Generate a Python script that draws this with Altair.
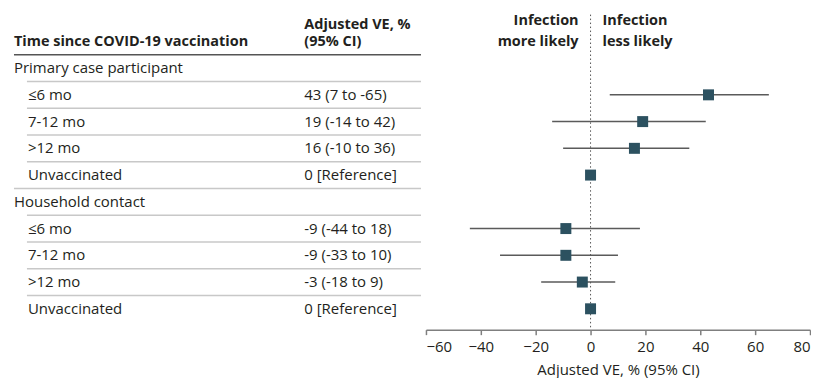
import altair as alt
import pandas as pd

groups = ["Primary case participant", "Household contact"]
periods = ["≤6 mo", "7-12 mo", ">12 mo", "Unvaccinated"]
ve = [43, 19, 16, 0, -9, -9, -3, 0]
ci_low = [7, -14, -10, None, -44, -33, -18, None]
ci_high = [65, 42, 36, None, 18, 10, 9, None]
ve_text = ["43 (7 to -65)", "19 (-14 to 42)", "16 (-10 to 36)", "0 [Reference]",
           "-9 (-44 to 18)", "-9 (-33 to 10)", "-3 (-18 to 9)", "0 [Reference]"]
x_ticks = [-60, -40, -20, 0, 20, 40, 60, 80]

rows = []
r = 1
k = 0
for g in groups:
    rows.append(dict(row=r, label=g, level="group", ve=None, lo=None, hi=None, txt=""))
    r += 1
    for p in periods:
        rows.append(dict(row=r, label=p, level="item", ve=ve[k], lo=ci_low[k],
                         hi=ci_high[k], txt=ve_text[k]))
        r += 1
        k += 1
df = pd.DataFrame(rows)
n_rows = len(rows)

seps = [dict(pos=0.5, kind="head")]
levels = [row["level"] for row in rows]
for i in range(1, n_rows):
    seps.append(dict(pos=i + 0.5, kind="full" if levels[i] == "group" else "indent"))
sep_df = pd.DataFrame(seps)

FONT = "Open Sans"
FS = 15
FSB = 14.5
TXT = "#231f20"
W_L, W_R, H = 419, 385, 322
yscale = alt.Scale(domain=[-1.23, 10.78], reverse=True, nice=False, zero=False)

def Y(field):
    return alt.Y(field, type="quantitative", scale=yscale, axis=None)

# ---------- left table ----------
base_l = alt.Chart(df)
group_txt = base_l.transform_filter("datum.level == 'group'").mark_text(
    align="left", baseline="middle", fontSize=FS, font=FONT, color=TXT
).encode(x=alt.value(6), y=Y("row"), text="label:N")
item_txt = base_l.transform_filter("datum.level == 'item'").mark_text(
    align="left", baseline="middle", fontSize=FS, font=FONT, color=TXT
).encode(x=alt.value(20), y=Y("row"), text="label:N")
val_txt = base_l.transform_filter("datum.level == 'item'").mark_text(
    align="left", baseline="middle", fontSize=FS, font=FONT, color=TXT
).encode(x=alt.value(297), y=Y("row"), text="txt:N")

head_df = pd.DataFrame([
    dict(row=0.02, t="Time since COVID-19 vaccination", col="a"),
    dict(row=-0.62, t="Adjusted VE, %", col="b"),
    dict(row=0.02, t="(95% CI)", col="b"),
])
head_a = alt.Chart(head_df).transform_filter("datum.col == 'a'").mark_text(
    align="left", baseline="middle", fontSize=FSB, font=FONT, fontWeight="bold", color=TXT
).encode(x=alt.value(6), y=Y("row"), text="t:N")
head_b = alt.Chart(head_df).transform_filter("datum.col == 'b'").mark_text(
    align="left", baseline="middle", fontSize=FSB, font=FONT, fontWeight="bold", color=TXT
).encode(x=alt.value(297), y=Y("row"), text="t:N")

sep_head = alt.Chart(sep_df).transform_filter("datum.kind == 'head'").mark_rule(
    color="#555555", strokeWidth=1.5
).encode(y=Y("pos"), x=alt.value(6), x2=alt.value(414))
sep_full = alt.Chart(sep_df).transform_filter("datum.kind == 'full'").mark_rule(
    color="#c8c8c8", strokeWidth=1.5
).encode(y=Y("pos"), x=alt.value(6), x2=alt.value(414))
sep_ind = alt.Chart(sep_df).transform_filter("datum.kind == 'indent'").mark_rule(
    color="#c8c8c8", strokeWidth=1.5
).encode(y=Y("pos"), x=alt.value(19), x2=alt.value(414))

left = alt.layer(sep_head, sep_full, sep_ind, head_a, head_b, group_txt, item_txt, val_txt).properties(
    width=W_L, height=H)

# ---------- right forest ----------
xscale = alt.Scale(domain=[-60, 80], nice=False, zero=False)
xaxis = alt.Axis(values=x_ticks, grid=False, domainColor="#7f7f7f", domainWidth=1.5,
                 tickColor="#7f7f7f", tickWidth=1.5, tickSize=5, labelFontSize=FS,
                 labelFont=FONT, labelColor=TXT, labelPadding=5,
                 title="Adjusted VE, % (95% CI)",
                 titleFont=FONT, titleFontSize=FS, titleFontWeight="normal", titleColor=TXT,
                 titlePadding=8)

items = alt.Chart(df).transform_filter("datum.level == 'item'")

ref_line = alt.Chart(pd.DataFrame({"v": [0]})).mark_rule(
    color="#555555", strokeDash=[1.5, 2.5], strokeWidth=1
).encode(x=alt.X("v:Q", scale=xscale, axis=xaxis), y=alt.YDatum(-1.0, scale=yscale, axis=None),
         y2=alt.value(H))

ci = items.transform_filter("isValid(datum.lo)").mark_rule(
    color="#5a5a5a", strokeWidth=1.5
).encode(x=alt.X("lo:Q", scale=xscale, axis=xaxis), x2="hi:Q", y=Y("row"))

pts = items.mark_square(size=121, color="#2c5160", opacity=1, filled=True).encode(
    x=alt.X("ve:Q", scale=xscale, axis=xaxis), y=Y("row"))

lab_df = pd.DataFrame([
    dict(row=-0.76, t="Infection", side="l"), dict(row=0.02, t="more likely", side="l"),
    dict(row=-0.76, t="Infection", side="r"), dict(row=0.02, t="less likely", side="r"),
])
lab_l = alt.Chart(lab_df).transform_filter("datum.side == 'l'").mark_text(
    align="right", baseline="middle", fontSize=FSB, font=FONT, fontWeight="bold", color=TXT, dx=-12
).encode(x=alt.XDatum(0, scale=xscale, axis=xaxis), y=Y("row"), text="t:N")
lab_r = alt.Chart(lab_df).transform_filter("datum.side == 'r'").mark_text(
    align="left", baseline="middle", fontSize=FSB, font=FONT, fontWeight="bold", color=TXT, dx=12
).encode(x=alt.XDatum(0, scale=xscale, axis=xaxis), y=Y("row"), text="t:N")

right = alt.layer(ref_line, ci, pts, lab_l, lab_r).properties(width=W_R, height=H)

chart = alt.hconcat(left, right, spacing=0, bounds="flush").properties(
    padding=0
).configure(font=FONT).configure_view(stroke=None)

chart.save("out.html", embed_options={"renderer": "svg", "actions": False})
